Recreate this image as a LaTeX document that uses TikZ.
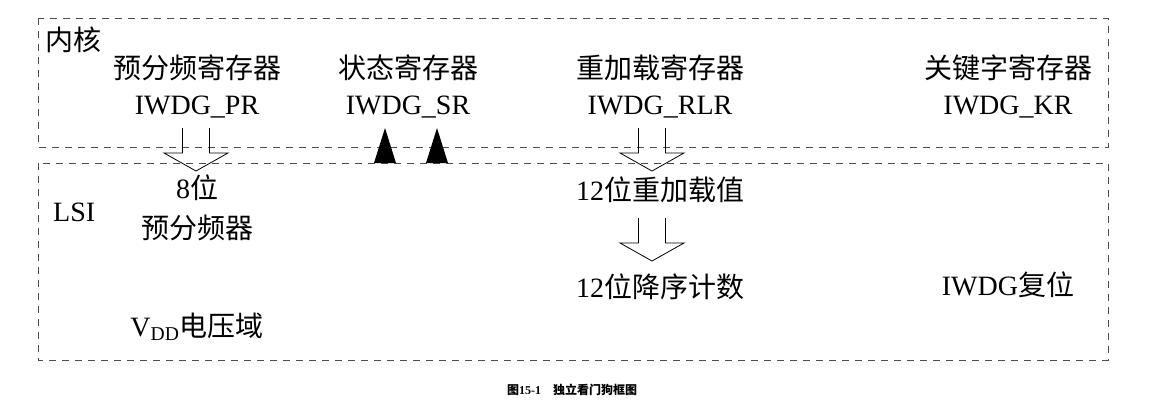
\documentclass[tikz,border=0pt]{standalone}
\usepackage{fontspec}
\setmainfont{Liberation Serif}
\newfontfamily\cjk{Noto Sans CJK SC}
\newcommand{\zh}[1]{{\cjk #1}}
\usetikzlibrary{positioning}

\begin{document}
\begin{tikzpicture}[
        x=1pt, y=-1pt,
        txt/.style={inner sep=0pt, font=\fontsize{28}{30}\selectfont},
        region/.style={draw=black!70, line width=0.9pt, dash pattern=on 7pt off 6pt},
        hollow/.pic={
            \draw[line width=0.8pt] (-13.5,0) -- (-13.5,25) -- (-32,25) -- (0,43)
                -- (32,25) -- (13.5,25) -- (13.5,0);
        },
        solidtip/.style={fill=black}
    ]
        \useasboundingbox (0,0) rectangle (1151,402);

        % two regions
        \draw[region] (38,18) rectangle (1108,147);
        \draw[region] (38,163) rectangle (1108,360);
        \node[txt, anchor=west] (core) at (45,40) {\zh{内核}};
        \node[txt, anchor=west] (lsi) at (53,212) {LSI};

        % registers
        \node[txt] (prname) at (197,68) {\zh{预分频寄存器}};
        \node[txt] (pr) at (197,107) {IWDG\_PR};
        \node[txt] (srname) at (408,68) {\zh{状态寄存器}};
        \node[txt] (sr) at (408,107) {IWDG\_SR};
        \node[txt] (rlrname) at (660,68) {\zh{重加载寄存器}};
        \node[txt] (rlr) at (660,107) {IWDG\_RLR};
        \node[txt] (krname) at (1008,68) {\zh{关键字寄存器}};
        \node[txt] (kr) at (1008,107) {IWDG\_KR};

        % LSI side
        \node[txt] (presc) at (197,188) {8\zh{位}};
        \node[txt] (prescb) at (197,228) {\zh{预分频器}};
        \node[txt] (reload) at (660,190) {12\zh{位重加载值}};
        \node[txt] (count) at (660,287) {12\zh{位降序计数}};
        \node[txt] (reset) at (1008,285) {IWDG\zh{复位}};
        \node[txt] (vdd) at (197,327) {V\textsubscript{DD}\zh{电压域}};

        % arrows
        \pic at (196,128) {hollow};
        \pic at (652,128) {hollow};
        \pic at (652,218) {hollow};
        \fill[solidtip] (385,128) -- (374,163) -- (396,163) -- cycle;
        \fill[solidtip] (437,128) -- (426,163) -- (448,163) -- cycle;

        \node[font=\fontsize{12}{14}\selectfont\bfseries] (caption) at (572,390)
            {\zh{图}15-1\quad\zh{独立看门狗框图}};
    \end{tikzpicture}
\end{document}
